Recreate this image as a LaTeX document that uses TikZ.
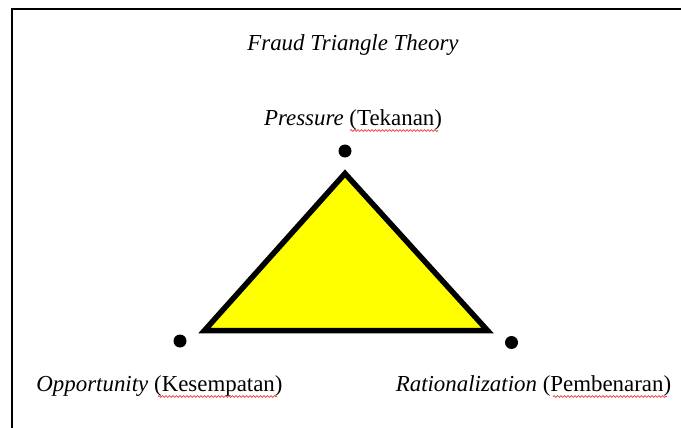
\documentclass[tikz,border=0pt]{standalone}
\usepackage{fontspec}
\setmainfont{Liberation Serif}
\usetikzlibrary{decorations.pathmorphing}
\definecolor{triyellow}{RGB}{255,255,0}
\definecolor{spellred}{RGB}{235,60,60}
\begin{document}
\begin{tikzpicture}[x=1pt,y=-1pt,
  lbl/.style={inner sep=0pt, anchor=base, font=\fontsize{22.9}{27}\selectfont},
  dotnode/.style={circle, fill=black, inner sep=0pt, minimum size=13pt},
  tri/.style={draw=black, fill=triyellow, line width=5.5pt, line join=miter},
  frameline/.style={draw=black, line width=2pt},
  wavy/.style={draw=spellred, line width=0.7pt, decorate, decoration={snake, segment length=3.5pt, amplitude=0.9pt}}]
\useasboundingbox (0,0) rectangle (681,428);
\fill[white] (0,0) rectangle (681,428);
% frame
\coordinate (fr1) at (690,9);
\coordinate (fr2) at (12,9);
\coordinate (fr3) at (12,440);
\draw[frameline] (fr1) -- (fr2) -- (fr3);
% title
\node[lbl] (title) at (353,51) {\textit{Fraud Triangle Theory}};
% labels
\node[lbl] (pres) at (353,126) {\textit{Pressure} (Tekanan)};
\node[lbl] (opp) at (159.5,391.5) {\textit{Opportunity} (Kesempatan)};
\node[lbl] (rat) at (533.5,391.5) {\textit{Rationalization} (Pembenaran)};
% spell-check underlines
\coordinate (u1a) at (350,130.5); \coordinate (u1b) at (438,130.5);
\coordinate (u2a) at (158,396.5); \coordinate (u2b) at (277,396.5);
\coordinate (u3a) at (553,396.5); \coordinate (u3b) at (667,396.5);
\draw[wavy] (u1a) -- (u1b);
\draw[wavy] (u2a) -- (u2b);
\draw[wavy] (u3a) -- (u3b);
% triangle
\coordinate (top) at (345,173.5);
\coordinate (left) at (204.5,330.5);
\coordinate (right) at (487.5,330.5);
\draw[tri] (top) -- (right) -- (left) -- cycle;
% dots
\node[dotnode] (dtop) at (345,151) {};
\node[dotnode] (dleft) at (180,341) {};
\node[dotnode] (dright) at (511.5,342.5) {};
\end{tikzpicture}
\end{document}
